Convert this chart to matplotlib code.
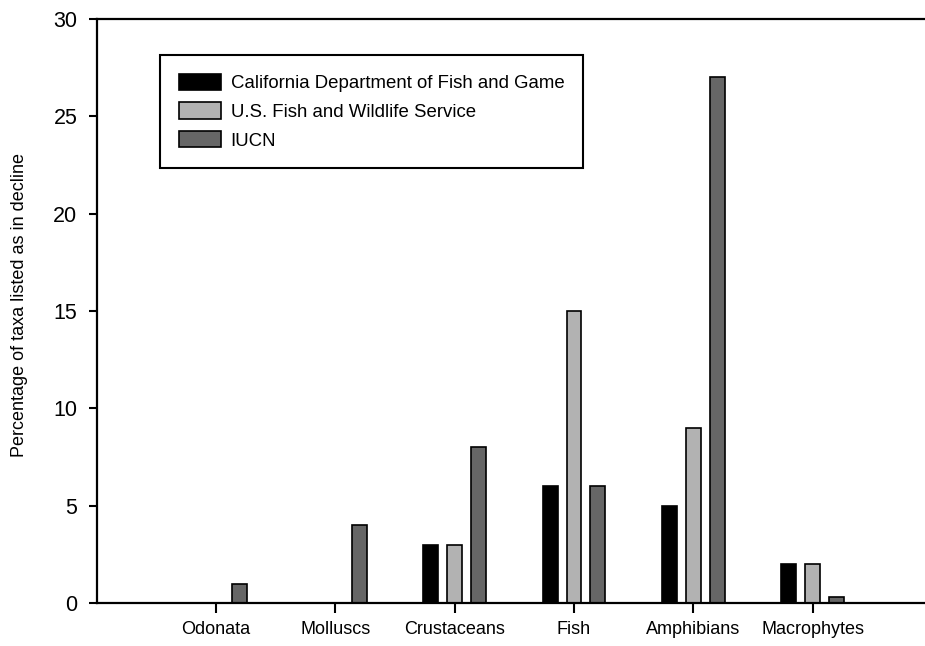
import numpy as np
import matplotlib
matplotlib.use('Agg')
import matplotlib.pyplot as plt

plt.rcParams['font.family'] = ['Liberation Sans', 'DejaVu Sans']

taxa = ['Odonata', 'Molluscs', 'Crustaceans', 'Fish', 'Amphibians', 'Macrophytes']
agencies = ['California Department of Fish and Game', 'U.S. Fish and Wildlife Service', 'IUCN']
cdfg = [0, 0, 3, 6, 5, 2]
usfws = [0, 0, 3, 15, 9, 2]
iucn = [1, 4, 8, 6, 27, 0.3]
yticks = [0, 5, 10, 15, 20, 25, 30]

colors = ['#000000', '#b2b2b2', '#666666']
offsets = [-0.2, 0.0, 0.2]
bar_width = 0.125

W, H = 925, 646
fig = plt.figure(figsize=(W / 100, H / 100), dpi=100)
# right spine sits just past the figure edge, as in the original layout
left, right, bottom, top = 96.7, 932.0, 603.0, 19.0
ax = fig.add_axes([left / W, 1 - bottom / H, (right - left) / W, (bottom - top) / H])

x = np.arange(1, len(taxa) + 1)
for values, color, off, label in zip([cdfg, usfws, iucn], colors, offsets, agencies):
	ax.bar(x + off, values, width=bar_width, color=color, edgecolor='black',
		linewidth=1.2, label=label, zorder=2)

ax.set_xlim(0, 7)
ax.set_ylim(0, 30)
ax.set_xticks(x)
ax.set_xticklabels(taxa, fontsize=13)
ax.set_yticks(yticks)
ax.set_yticklabels([str(t) for t in yticks], fontsize=15.5)
ax.tick_params(axis='both', direction='out', width=1.5, color='black')
ax.tick_params(axis='x', length=7, pad=6)
ax.tick_params(axis='y', length=6, pad=8)
for side in ['left', 'bottom', 'top', 'right']:
	ax.spines[side].set_linewidth(1.6)
	ax.spines[side].set_zorder(3)

ax.set_ylabel('Percentage of taxa listed as in decline', fontsize=13)
ax.yaxis.set_label_coords(-0.082, 0.51)

leg = ax.legend(loc='upper left', bbox_to_anchor=(0.0758, 0.9383), borderaxespad=0,
	fontsize=13.4, frameon=True, fancybox=False, edgecolor='black', framealpha=1,
	handlelength=2.3, handleheight=0.97, handletextpad=0.5, borderpad=1.0,
	labelspacing=0.55)
leg.get_frame().set_linewidth(1.5)

fig.savefig('out.png', dpi=100)
